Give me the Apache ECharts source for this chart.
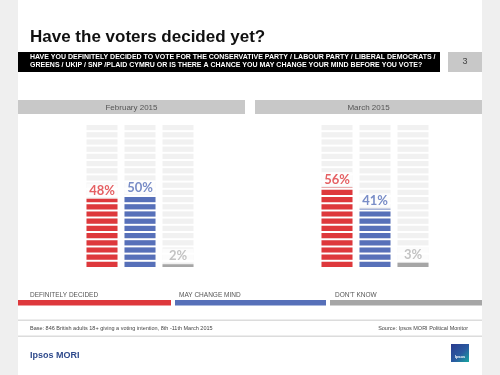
<!DOCTYPE html>
<html>
<head>
<meta charset="utf-8">
<script src="https://cdn.jsdelivr.net/npm/echarts@6/dist/echarts.min.js"></script>
<style>
html, body { margin: 0; padding: 0; background: #efefef; }
#main { width: 500px; height: 375px; }
</style>
</head>
<body>
<div id="main"></div>
<script>
// data
var months = ['February 2015', 'March 2015'];
var answers = ['DEFINITELY DECIDED', 'MAY CHANGE MIND', "DON'T KNOW"];
var febValues = [48, 50, 2];
var marValues = [56, 41, 3];
var fullScale = [100, 100, 100];
var title = 'Have the voters decided yet?';
var question = [
	'HAVE YOU DEFINITELY DECIDED TO VOTE FOR THE CONSERVATIVE PARTY / LABOUR PARTY / LIBERAL DEMOCRATS /',
	'GREENS / UKIP / SNP /PLAID CYMRU OR IS THERE A CHANCE YOU MAY CHANGE YOUR MIND BEFORE YOU VOTE?'
];
var pageNo = '3';
var baseNote = 'Base: 846 British adults 18+ giving a voting intention, 8th -11th March 2015';
var sourceNote = 'Source: Ipsos MORI Political Monitor';

var colors = ['#de383c', '#5770b9', '#a6a6a6'];
var labelColors = ['#de383c', '#5770b9', '#b4b4b4'];

var segH = 5.2;
var colW = 31;

function bgSeries(idx) {
	return {
		type: 'pictorialBar',
		xAxisIndex: idx,
		yAxisIndex: idx,
		symbol: 'rect',
		symbolRepeat: 20,
		symbolBoundingData: 100,
		symbolSize: [colW, segH],
		barWidth: colW,
		barGap: '-100%',
		silent: true,
		itemStyle: { color: '#f1f1f1' },
		data: fullScale,
		z: 1
	};
}

function valSeries(idx, values) {
	return {
		type: 'pictorialBar',
		xAxisIndex: idx,
		yAxisIndex: idx,
		symbol: 'rect',
		symbolRepeat: 20,
		symbolBoundingData: 100,
		symbolClip: true,
		symbolSize: [colW, segH],
		barWidth: colW,
		barGap: '-100%',
		data: values.map(function(v, i) {
			return { value: v, itemStyle: { color: colors[i] } };
		}),
		z: 3
	};
}

// value labels sit on top of each filled column
function labelSeries(idx, values) {
	return {
		type: 'scatter',
		xAxisIndex: idx,
		yAxisIndex: idx,
		symbolSize: 1,
		itemStyle: { color: 'transparent' },
		silent: true,
		data: values.map(function(v, i) {
			return { value: [i, v], label: { color: labelColors[i] } };
		}),
		label: {
			show: true,
			position: 'top',
			distance: 1,
			fontFamily: 'Lato',
			fontWeight: 'bold',
			fontSize: 13,
			backgroundColor: '#fff',
			width: colW - 4,
			align: 'center',
			padding: [1, 2, 0, 2],
			formatter: function(p) { return p.value[1] + '%'; }
		},
		z: 4
	};
}

var graphics = [
	{ type: 'rect', shape: { x: 18, y: 0, width: 464, height: 375 }, style: { fill: '#fff' }, silent: true, z: -10 },
	{ type: 'text', left: 30, top: 29, style: { text: title, font: 'bold 17px "Liberation Sans", Arial', fill: '#111' } },
	{ type: 'rect', shape: { x: 18, y: 52, width: 422, height: 20 }, style: { fill: '#000' } },
	{ type: 'text', left: 30, top: 53.5, style: { text: question.join('\n'), font: 'bold 7px "Liberation Sans"', fill: '#fff', lineHeight: 8 } },
	{ type: 'rect', shape: { x: 448, y: 52, width: 34, height: 20 }, style: { fill: '#c8c8c8' } },
	{ type: 'text', x: 465, y: 62, style: { text: pageNo, font: '9px "Liberation Sans"', fill: '#444', align: 'center', verticalAlign: 'middle' } },
	{ type: 'rect', shape: { x: 18, y: 100, width: 227, height: 14 }, style: { fill: '#c8c8c8' } },
	{ type: 'rect', shape: { x: 255, y: 100, width: 227, height: 14 }, style: { fill: '#c8c8c8' } },
	{ type: 'text', x: 131.5, y: 107.5, style: { text: months[0], font: '8px "Liberation Sans"', fill: '#555', align: 'center', verticalAlign: 'middle' } },
	{ type: 'text', x: 368.5, y: 107.5, style: { text: months[1], font: '8px "Liberation Sans"', fill: '#555', align: 'center', verticalAlign: 'middle' } },
	// legend strips
	{ type: 'text', x: 30, y: 295, style: { text: answers[0], font: '6.5px "Liberation Sans"', fill: '#555', verticalAlign: 'middle' } },
	{ type: 'text', x: 179, y: 295, style: { text: answers[1], font: '6.5px "Liberation Sans"', fill: '#555', verticalAlign: 'middle' } },
	{ type: 'text', x: 335, y: 295, style: { text: answers[2], font: '6.5px "Liberation Sans"', fill: '#555', verticalAlign: 'middle' } },
	{ type: 'rect', shape: { x: 18, y: 300, width: 153, height: 5.5 }, style: { fill: colors[0] } },
	{ type: 'rect', shape: { x: 175, y: 300, width: 151, height: 5.5 }, style: { fill: colors[1] } },
	{ type: 'rect', shape: { x: 330, y: 300, width: 152, height: 5.5 }, style: { fill: colors[2] } },
	// footer
	{ type: 'rect', shape: { x: 18, y: 319.5, width: 464, height: 1.5 }, style: { fill: '#dcdcdc' } },
	{ type: 'rect', shape: { x: 18, y: 335.5, width: 464, height: 1.5 }, style: { fill: '#dcdcdc' } },
	{ type: 'text', x: 30, y: 328, style: { text: baseNote, font: '5.5px "Liberation Sans"', fill: '#444', verticalAlign: 'middle' } },
	{ type: 'text', x: 468, y: 328, style: { text: sourceNote, font: '5.5px "Liberation Sans"', fill: '#444', align: 'right', verticalAlign: 'middle' } },
	{ type: 'text', x: 30, y: 356, style: { text: 'Ipsos MORI', font: 'bold 9px "Liberation Sans"', fill: '#2f4a8c', verticalAlign: 'middle' } },
	{ type: 'rect', shape: { x: 451, y: 344, width: 18, height: 18 }, style: {
		fill: new echarts.graphic.LinearGradient(0, 0, 1, 1, [
			{ offset: 0, color: '#2a3a8e' }, { offset: 0.55, color: '#2a5aa0' }, { offset: 1, color: '#17a7a0' }
		]) } },
	{ type: 'text', x: 460, y: 357, style: { text: 'Ipsos', font: 'bold 4px "Liberation Sans"', fill: '#fff', align: 'center', verticalAlign: 'middle' } }
];

var option = {
	animation: false,
	backgroundColor: 'transparent',
	graphic: graphics,
	grid: [
		{ left: 83, width: 114, top: 125, height: 142 },
		{ left: 318, width: 114, top: 125, height: 142 }
	],
	xAxis: [0, 1].map(function(i) {
		return {
			type: 'category',
			gridIndex: i,
			data: answers,
			show: false
		};
	}),
	yAxis: [0, 1].map(function(i) {
		return {
			type: 'value',
			gridIndex: i,
			min: 0,
			max: 100,
			show: false
		};
	}),
	series: [
		bgSeries(0),
		valSeries(0, febValues),
		labelSeries(0, febValues),
		bgSeries(1),
		valSeries(1, marValues),
		labelSeries(1, marValues)
	]
};

var myChart = echarts.init(document.getElementById('main'));
myChart.setOption(option);
</script>
</body>
</html>
